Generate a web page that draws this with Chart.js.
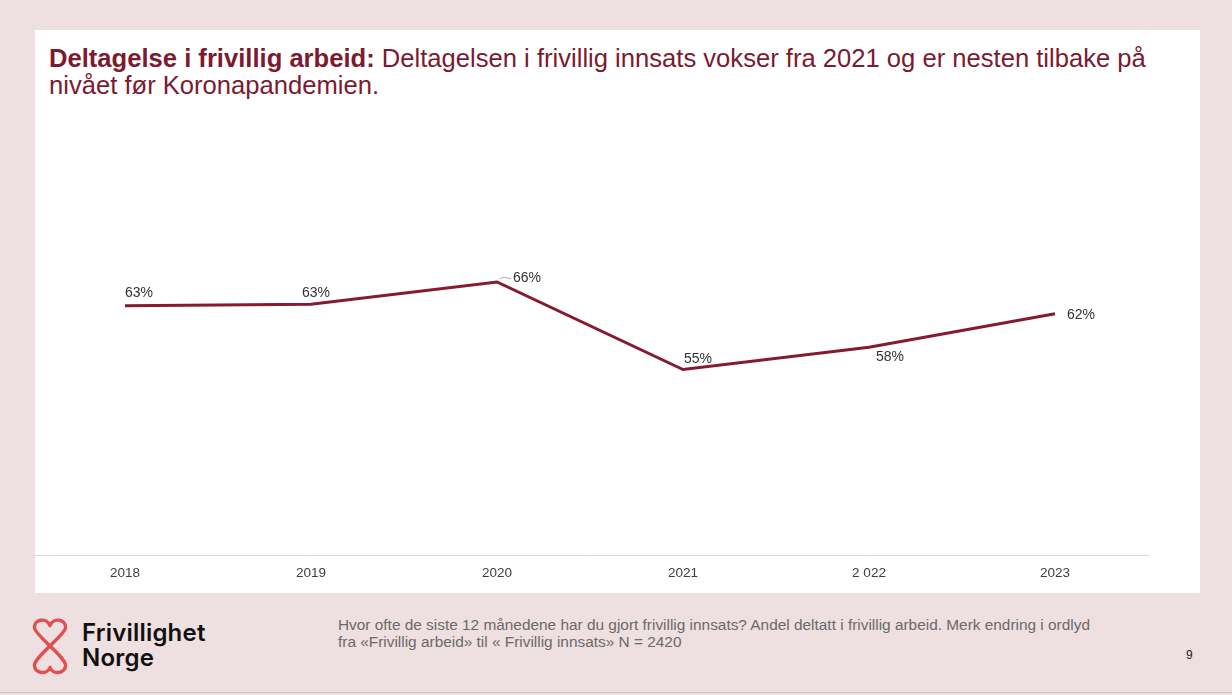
<!DOCTYPE html>
<html><head><meta charset="utf-8">
<script src="https://cdn.jsdelivr.net/npm/chart.js@4/dist/chart.umd.min.js"></script>
<style>
html,body{margin:0;padding:0;}
body{width:1232px;height:695px;background:#eedfe0;position:relative;overflow:hidden;font-family:"Liberation Sans",Arial,sans-serif;}
#panel{position:absolute;left:35px;top:30px;width:1165px;height:563px;background:#fff;}
#title{position:absolute;left:49px;top:45px;width:1140px;font-size:25.6px;line-height:27px;color:#7c1a2f;}
#title b{font-weight:bold;}
#wrap{position:absolute;left:30px;top:110px;width:1170px;height:483px;}
#foot{position:absolute;left:338px;top:616px;font-size:15.4px;line-height:17px;color:#6a6a6a;white-space:nowrap;}
#pg{position:absolute;left:1186px;top:648px;font-size:12px;color:#222;}
#logo{position:absolute;left:31px;top:617px;}
#brand{position:absolute;left:82px;top:620px;font-family:Inter,"Open Sans",sans-serif;font-weight:600;font-size:24px;line-height:25px;color:#111;letter-spacing:0.2px;}
#bl{position:absolute;left:0;top:692px;width:1232px;height:1px;background:#cfc6c7;}
</style></head>
<body>
<div id="panel"></div>
<div id="title"><b>Deltagelse i frivillig arbeid:</b> Deltagelsen i frivillig innsats vokser fra 2021 og er nesten tilbake på nivået før Koronapandemien.</div>
<div id="wrap"><canvas id="c" width="1170" height="483"></canvas></div>
<svg id="logo" width="38" height="58" viewBox="0 0 33 54">
<path d="M16.5,8 C13,0 1.5,2 2,10 C2.5,17 31,37 31,45 C31,53 19,54 16.5,47 C14,54 2,53 2,45 C2,37 30.5,17 31,10 C31.5,2 20,0 16.5,8 Z" fill="none" stroke="#e0504f" stroke-width="3.2" stroke-linejoin="round"/>
</svg>
<div id="brand">Frivillighet<br>Norge</div>
<div id="foot">Hvor ofte de siste 12 månedene har du gjort frivillig innsats? Andel deltatt i frivillig arbeid. Merk endring i ordlyd<br>fra «Frivillig arbeid» til « Frivillig innsats» N = 2420</div>
<div id="pg">9</div>
<div id="bl"></div>
<script>
const years = ["2018","2019","2020","2021","2 022","2023"];
const participation = [63.0, 63.2, 66.0, 55.0, 57.8, 62.0];
const seriesName = "Deltatt i frivillig arbeid";

const labelOffsets = [[0,-13],[-9,-11],[16,-4],[1,-10],[7,10],[12,1]];

const labelPlugin = {
  id:'pctLabels',
  afterDatasetsDraw(chart){
    const ctx = chart.ctx;
    const meta = chart.getDatasetMeta(0);
    ctx.save();
    ctx.font = '14px "Liberation Sans", Arial, sans-serif';
    ctx.fillStyle = '#333';
    ctx.textAlign = 'left';
    ctx.textBaseline = 'middle';
    meta.data.forEach((pt,i)=>{
      const [dx,dy] = labelOffsets[i];
      const x = pt.x+dx, y = pt.y+dy;
      if (i===2){
        ctx.strokeStyle='#aaa'; ctx.lineWidth=1;
        ctx.beginPath(); ctx.moveTo(pt.x+3,pt.y-3);
        ctx.quadraticCurveTo(pt.x+6,pt.y-6,x-2,y+1); ctx.stroke();
      }
      ctx.fillText(Math.round(participation[i])+'%', x, y);
    });
    ctx.restore();
  }
};

new Chart(document.getElementById('c'),{
  type:'line',
  data:{labels:years,datasets:[{label:seriesName,data:participation,borderColor:'#861a30',borderWidth:3,pointRadius:0,tension:0,fill:false}]},
  options:{
    responsive:false,animation:false,
    layout:{padding:{left:2,right:52,top:0,bottom:3}},
    plugins:{legend:{display:false},tooltip:{enabled:false},title:{display:false}},
    scales:{
      x:{offset:true,grid:{display:false,drawTicks:false},border:{display:true,color:'#d9d9d9',width:1},
         ticks:{color:'#404040',padding:9,font:{family:'"Liberation Sans", Arial, sans-serif',size:13.5}}},
      y:{display:false,min:31.6,max:87.6}
    }
  },
  plugins:[labelPlugin]
});
</script>
</body></html>
